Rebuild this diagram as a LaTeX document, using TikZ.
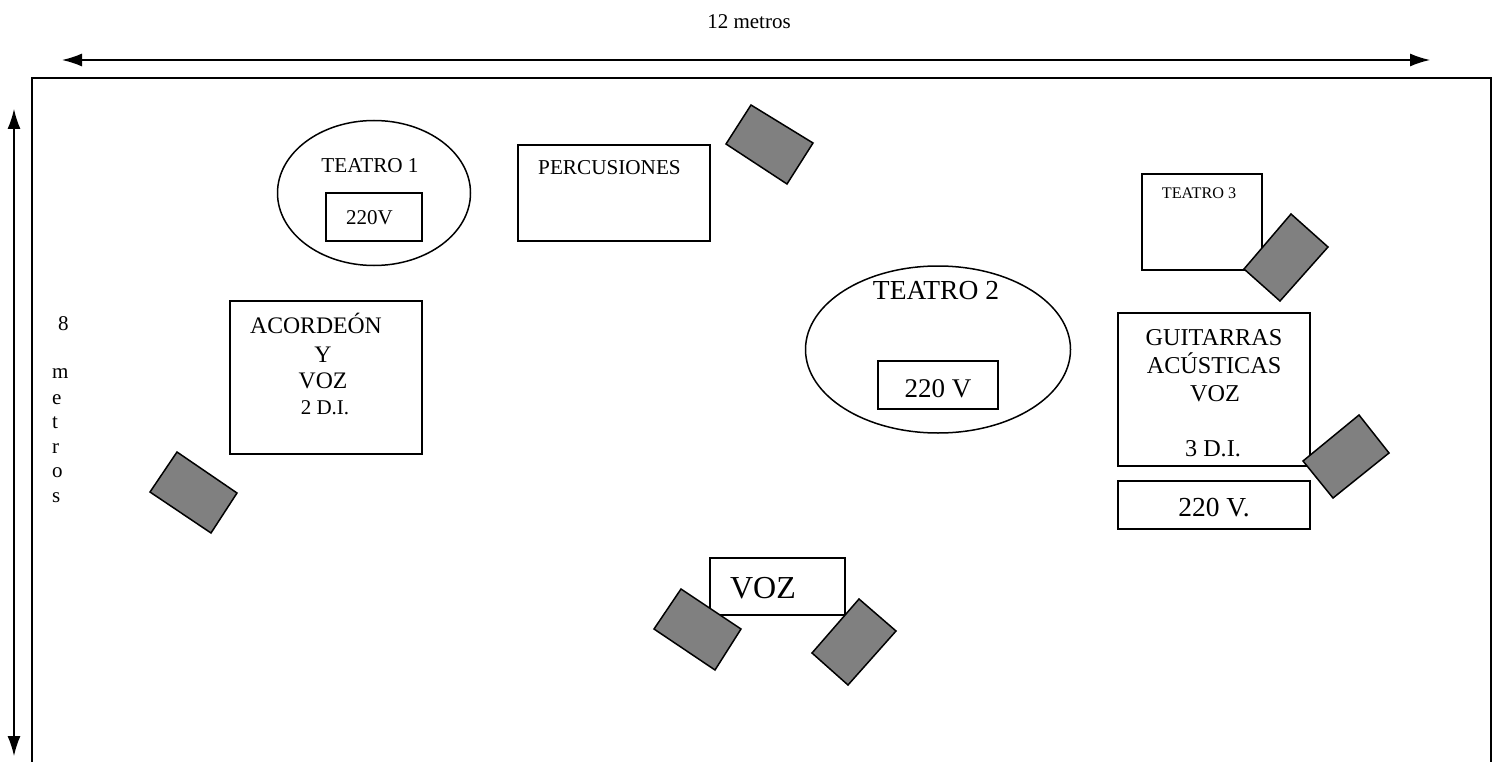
\documentclass[tikz,border=0pt]{standalone}
\usepackage{fontspec}
\setmainfont{Liberation Serif}
\usetikzlibrary{arrows.meta}
\definecolor{mongris}{gray}{0.5}
\newcommand{\fs}[1]{\fontsize{#1}{#1}\selectfont}
\tikzset{
  outline/.style={draw=black,line width=1.5pt,fill=white},
  monitor/.style={draw=black,line width=1.5pt,fill=mongris,line join=miter},
  label/.style={inner sep=0pt,anchor=base},
  lab west/.style={inner sep=0pt,anchor=base west},
  dim/.style={draw=black,line width=1.5pt,{Latex[length=20pt,width=13pt]}-{Latex[length=20pt,width=13pt]}}
}
\begin{document}
\begin{tikzpicture}[x=1pt,y=-1pt]
\useasboundingbox (0,0) rectangle (1498,762);
\clip (0,0) rectangle (1498,762);
% dimension arrows
\coordinate (hl) at (62,60); \coordinate (hr) at (1430,60);
\coordinate (vt) at (14,109); \coordinate (vb) at (14,756);
\draw[dim] (hl) -- (hr);
\draw[dim] (vt) -- (vb);
% stage outline, open past the lower page edge
\draw[outline,fill=none] (32,775) -- (32,78) -- (1491,78) -- (1491,775);
\node[label] (t12) at (749,29) {\fs{21}12 metros};
% vertical label
\node[lab west] (v8) at (58,330) {\fs{21}8};
\node[lab west] (vm) at (52,378) {\fs{21}m};
\node[lab west] (ve) at (52,404) {\fs{21}e};
\node[lab west] (vt2) at (52,428) {\fs{21}t};
\node[lab west] (vr) at (52,453) {\fs{21}r};
\node[lab west] (vo) at (52,477) {\fs{21}o};
\node[lab west] (vs) at (52,502) {\fs{21}s};
% teatro 1
\draw[outline] (374,193) ellipse [x radius=96.5,y radius=72.5];
\draw[outline] (326,193) rectangle (422,241);
\node[label] (t1) at (370,173) {\fs{21.2}TEATRO 1};
\node[label] (t1v) at (369.5,224) {\fs{21}220V};
% percusiones
\draw[outline] (518,145) rectangle (710,241);
\node[label] (per) at (609.5,175) {\fs{21.2}PERCUSIONES};
% teatro 2
\draw[outline] (938,349.5) ellipse [x radius=132.5,y radius=83.5];
\draw[outline] (878,361) rectangle (998,409);
\node[label] (t2) at (936,299) {\fs{27.5}TEATRO 2};
\node[label] (t2v) at (938,397) {\fs{27}220 V};
% teatro 3
\draw[outline] (1142,174) rectangle (1262,270);
\node[label] (t3) at (1199,199) {\fs{16.2}TEATRO 3};
% guitarras
\draw[outline] (1118,313) rectangle (1310,466);
\node[label] (g1) at (1214,345) {\fs{24.2}GUITARRAS};
\node[label] (g2) at (1214,373) {\fs{24.2}ACÚSTICAS};
\node[label] (g3) at (1215,401) {\fs{24.2}VOZ};
\node[label] (g4) at (1213,456) {\fs{24.2}3 D.I.};
\draw[outline] (1118,481) rectangle (1310,529);
\node[label] (gv) at (1214,516) {\fs{27.5}220 V.};
% acordeon
\draw[outline] (230,301) rectangle (422,454);
\node[label] (a1) at (316,333) {\fs{23.7}ACORDEÓN};
\node[label] (a2) at (323,362) {\fs{23.7}Y};
\node[label] (a3) at (323,388) {\fs{23.7}VOZ};
\node[label] (a4) at (325,414) {\fs{21}2 D.I.};
% voz
\draw[outline] (710,558) rectangle (845,615);
\node[label] (vz) at (763,598) {\fs{32}VOZ};
% monitors
\draw[monitor] (177,452) -- (237,493) -- (211,533) -- (150,492) -- cycle;
\draw[monitor] (751,105) -- (813,143) -- (787,184) -- (726,144) -- cycle;
\draw[monitor] (1291,214) -- (1328,247) -- (1280,301) -- (1244,269) -- cycle;
\draw[monitor] (1359,415) -- (1389,453) -- (1333,498) -- (1303,461) -- cycle;
\draw[monitor] (681,589) -- (741,629) -- (715,670) -- (654,629) -- cycle;
\draw[monitor] (859,599) -- (896,631) -- (848,685) -- (812,653) -- cycle;
\end{tikzpicture}
\end{document}
